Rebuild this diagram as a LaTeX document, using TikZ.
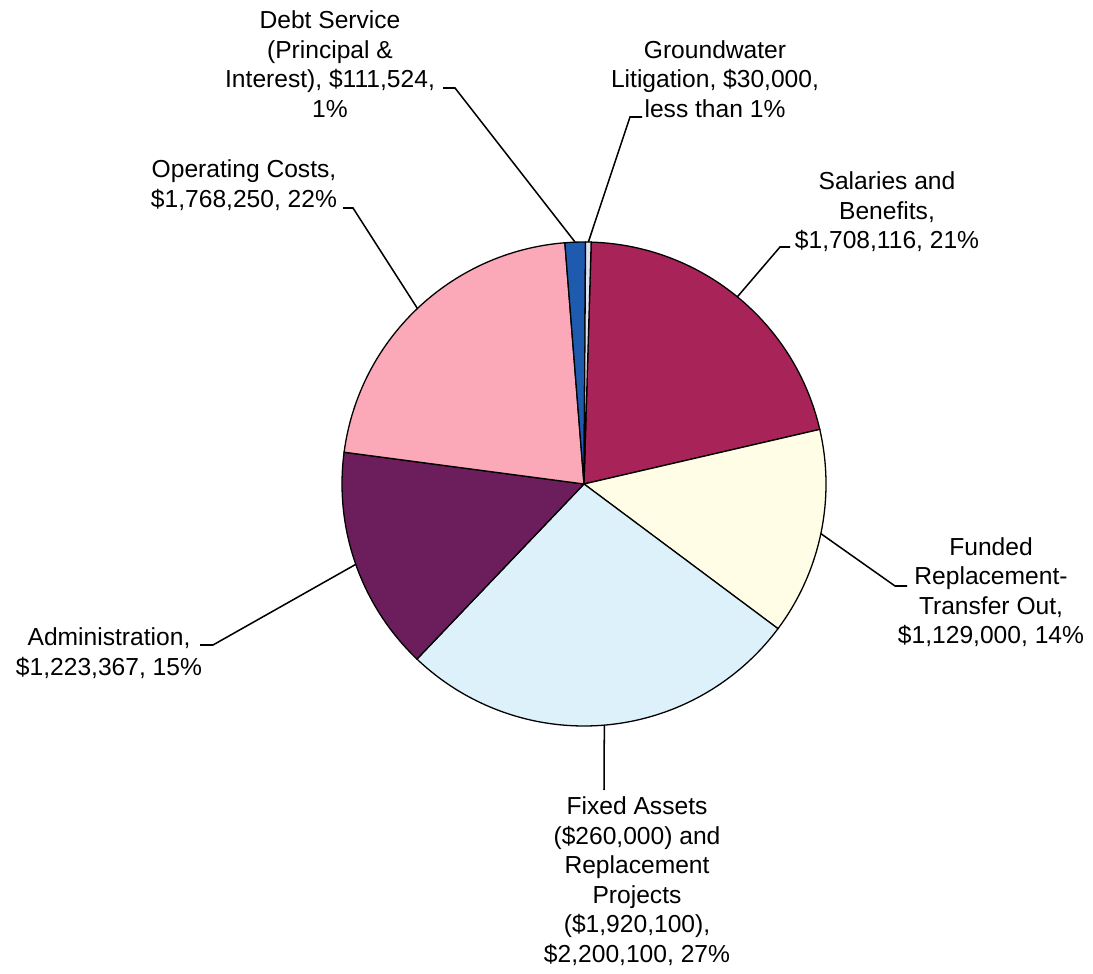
\documentclass[tikz,border=0pt]{standalone}
\usepackage{fontspec}
\setmainfont{Liberation Sans}
\definecolor{salaries}{RGB}{168,35,88}
\definecolor{funded}{RGB}{255,253,230}
\definecolor{fixed}{RGB}{221,241,251}
\definecolor{admin}{RGB}{108,30,92}
\definecolor{operating}{RGB}{251,168,184}
\definecolor{debt}{RGB}{30,90,174}
\definecolor{ground}{RGB}{222,226,236}
\begin{document}
\begin{tikzpicture}[x=0.03cm,y=0.03cm,
  slice/.style={draw=black, line width=1.1pt},
  leader/.style={draw=black, line width=1.3pt},
  lbl/.style={align=center, font=\fontsize{21}{25.2}\selectfont, inner sep=0pt}]
\useasboundingbox (0,0) rectangle (1093,973);
\coordinate (c) at (584,489);
\draw[slice, fill=salaries] (c) -- ++(88.3:242) arc[start angle=88.3, end angle=13.04, radius=242] -- cycle;
\draw[slice, fill=funded] (c) -- ++(13.04:242) arc[start angle=13.04, end angle=-36.71, radius=242] -- cycle;
\draw[slice, fill=fixed] (c) -- ++(-36.71:242) arc[start angle=-36.71, end angle=-133.65, radius=242] -- cycle;
\draw[slice, fill=admin] (c) -- ++(-133.65:242) arc[start angle=-133.65, end angle=-187.55, radius=242] -- cycle;
\draw[slice, fill=operating] (c) -- ++(-187.55:242) arc[start angle=-187.55, end angle=-265.46, radius=242] -- cycle;
\draw[slice, fill=debt] (c) -- ++(-265.46:242) arc[start angle=-265.46, end angle=-270.37, radius=242] -- cycle;
\draw[slice, fill=ground] (c) -- ++(-270.37:242) arc[start angle=-270.37, end angle=-271.7, radius=242] -- cycle;
\path (c) ++(92.1:242) coordinate (debt-e);
\path (c) ++(88.97:242) coordinate (gw-e);
\path (c) ++(50.67:242) coordinate (sal-e);
\path (c) ++(-11.84:242) coordinate (fund-e);
\path (c) ++(-85.18:242) coordinate (fix-e);
\path (c) ++(-160.6:242) coordinate (adm-e);
\path (c) ++(133.5:242) coordinate (op-e);
\coordinate (debt-b) at (455,885);
\coordinate (debt-t) at (443,885);
\coordinate (gw-b) at (630,856);
\coordinate (gw-t) at (642,856);
\coordinate (sal-b) at (780,726);
\coordinate (sal-t) at (790,726);
\coordinate (fund-b) at (895,387);
\coordinate (fund-t) at (907,387);
\coordinate (fix-t) at (604,183);
\coordinate (adm-b) at (213,328);
\coordinate (adm-t) at (200,328);
\coordinate (op-b) at (353,765);
\coordinate (op-t) at (343,765);
\node[lbl] (debt) at (330,909) {Debt Service\\(Principal \&\\Interest), \$111,524,\\1\%};
\node[lbl] (gw) at (715,894) {Groundwater\\Litigation, \$30,000,\\less than 1\%};
\node[lbl] (sal) at (887,761) {Salaries and\\Benefits,\\\$1,708,116, 21\%};
\node[lbl] (fund) at (991,381) {Funded\\Replacement-\\Transfer Out,\\\$1,129,000, 14\%};
\node[lbl] (fix) at (637,92) {Fixed Assets\\(\$260,000) and\\Replacement\\Projects\\(\$1,920,100),\\\$2,200,100, 27\%};
\node[lbl] (adm) at (109,320) {Administration,\\\$1,223,367, 15\%};
\node[lbl] (op) at (244,788) {Operating Costs,\\\$1,768,250, 22\%};
\draw[leader] (debt-e) -- (debt-b) -- (debt-t);
\draw[leader] (gw-e) -- (gw-b) -- (gw-t);
\draw[leader] (sal-e) -- (sal-b) -- (sal-t);
\draw[leader] (fund-e) -- (fund-b) -- (fund-t);
\draw[leader] (fix-e) -- (fix-t);
\draw[leader] (adm-e) -- (adm-b) -- (adm-t);
\draw[leader] (op-e) -- (op-b) -- (op-t);
\end{tikzpicture}
\end{document}
